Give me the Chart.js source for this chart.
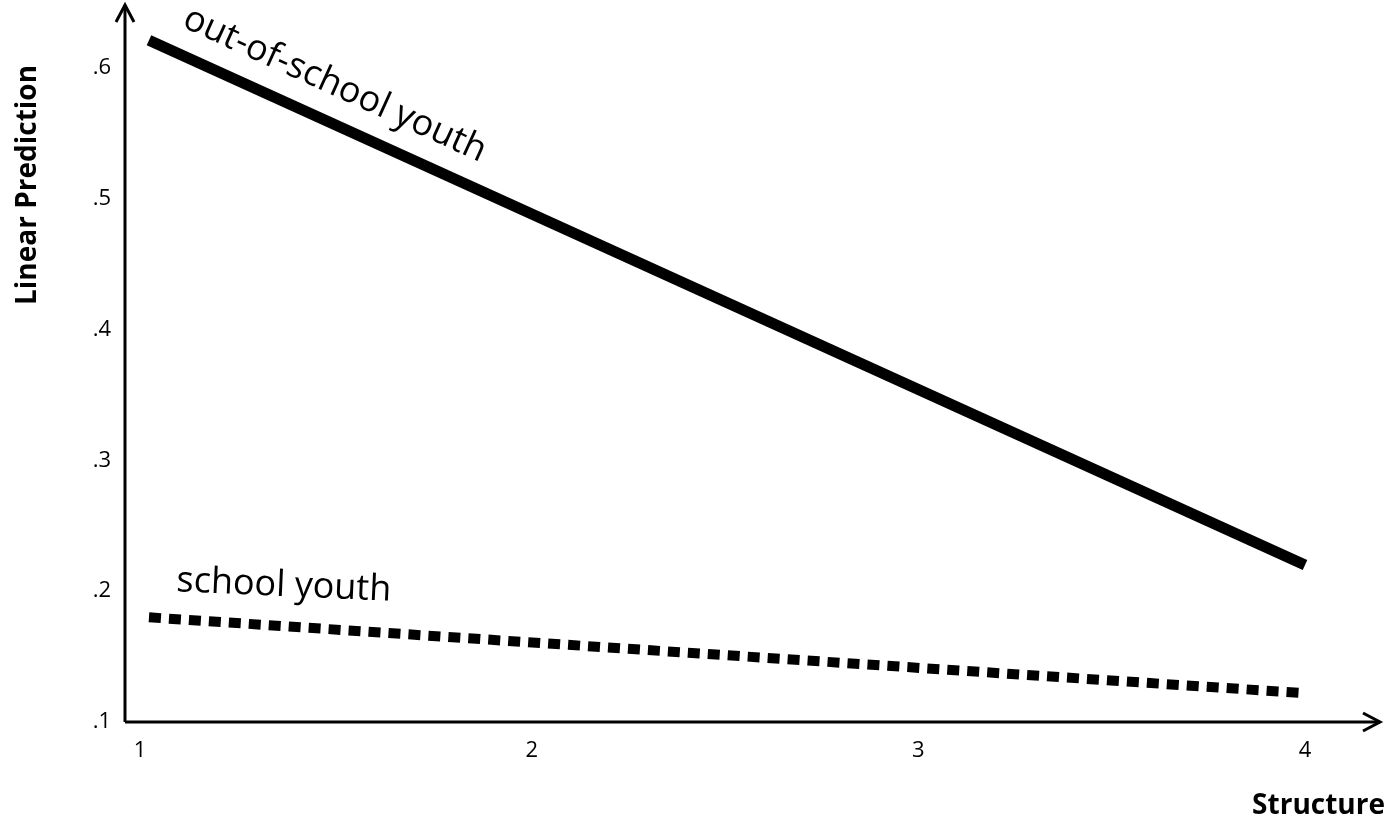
<!DOCTYPE html>
<html><head><meta charset="utf-8">
<script src="https://cdn.jsdelivr.net/npm/chart.js@4"></script>
<style>html,body{margin:0;padding:0;background:#fff}#w{width:1394px;height:823px}</style>
</head><body><div id="w"><canvas id="c"></canvas></div>
<script>
const xTicks=[1,2,3,4];
const yTicks=[0.1,0.2,0.3,0.4,0.5,0.6];
const yTickLabels=['.1','.2','.3','.4','.5','.6'];
const outSchool=[{x:1.01,y:0.621},{x:4,y:0.220}];
const school=[{x:1.01,y:0.180},{x:4,y:0.122}];
const FONT='"Open Sans", sans-serif';
const deco={id:'deco',afterDraw(ch){
 const c=ch.ctx,xs=ch.scales.x,ys=ch.scales.y,a=ch.chartArea;
 c.save();c.strokeStyle='#000';c.fillStyle='#000';c.lineWidth=3;
 c.beginPath();c.moveTo(a.left,a.bottom);c.lineTo(a.left,a.top);c.moveTo(a.left,a.bottom);c.lineTo(a.right,a.bottom);c.stroke();
 c.beginPath();c.moveTo(a.left-9,a.top+17);c.lineTo(a.left,a.top);c.lineTo(a.left+9,a.top+17);c.stroke();
 c.beginPath();c.moveTo(a.right-17,a.bottom-9);c.lineTo(a.right,a.bottom);c.lineTo(a.right-17,a.bottom+9);c.stroke();
 c.font='22px '+FONT;c.textAlign='right';c.textBaseline='middle';
 yTicks.forEach((v,i)=>c.fillText(yTickLabels[i],a.left-14,ys.getPixelForValue(v)));
 c.textAlign='center';c.textBaseline='top';
 const off=[-5,0,0,0];
 xTicks.forEach((v,i)=>c.fillText(String(v),xs.getPixelForValue(v)+off[i],a.bottom+18));
 c.font='bold 28px '+FONT;c.textAlign='right';c.textBaseline='bottom';c.fillText('Structure',1385,820);
 c.save();c.translate(28,185);c.rotate(-Math.PI/2);c.textAlign='center';c.textBaseline='middle';c.fillText('Linear Prediction',0,0);c.restore();
 // series labels
 const p0x=xs.getPixelForValue(outSchool[0].x),p0y=ys.getPixelForValue(outSchool[0].y);
 const p1x=xs.getPixelForValue(outSchool[1].x),p1y=ys.getPixelForValue(outSchool[1].y);
 const ang=Math.atan2(p1y-p0y,p1x-p0x);
 c.font='36px '+FONT;c.textAlign='left';c.textBaseline='alphabetic';
 c.save();c.translate(p0x+32,p0y-14);c.rotate(ang);c.fillText('out-of-school youth',0,0);c.restore();
 c.save();c.translate(xs.getPixelForValue(1.08),ys.getPixelForValue(0.2));c.rotate(0.045);c.fillText('school youth',0,0);c.restore();
 c.restore();
}};
new Chart(document.getElementById('c'),{type:'scatter',
 data:{datasets:[
  {data:outSchool,showLine:true,borderColor:'#000',borderWidth:11,pointRadius:0,borderCapStyle:'butt'},
  {data:school,showLine:true,borderColor:'#000',borderWidth:10,borderDash:[12,8],pointRadius:0,borderCapStyle:'butt'}]},
 options:{responsive:true,maintainAspectRatio:false,animation:false,
  layout:{padding:{left:125,right:14,top:5,bottom:101}},
  plugins:{legend:{display:false},tooltip:{enabled:false}},
  scales:{x:{type:'linear',min:0.948,max:4.194,display:false},
          y:{type:'linear',min:0.1,max:0.648,display:false}}},
 plugins:[deco]});
</script></body></html>
